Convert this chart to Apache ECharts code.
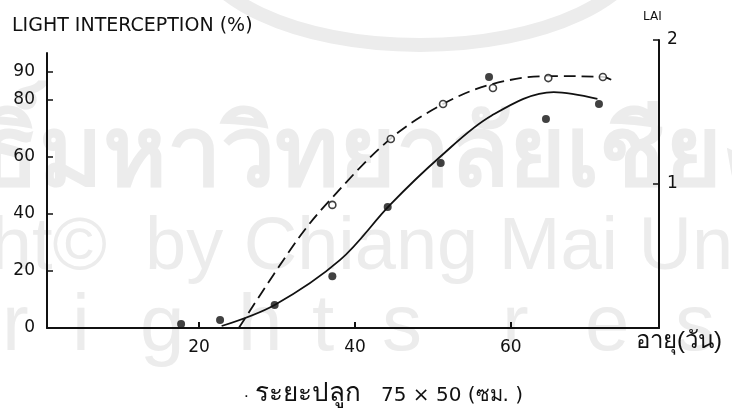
<!DOCTYPE html>
<html>
<head>
<meta charset="utf-8">
<script src="https://cdn.jsdelivr.net/npm/echarts@6/dist/echarts.min.js"></script>
<style>
  html, body { margin: 0; padding: 0; background: #fff; }
  #chart { width: 732px; height: 412px; }
</style>
</head>
<body>
<div id="chart"></div>
<script>
// open circles + dashed fitted curve
const openDays = [37.1, 44.6, 51.3, 57.7, 64.8, 71.8];
const openPct = [43.2, 66.3, 78.6, 84.2, 87.7, 88.1];
const dashedDays = [25.1, 32.6, 36.8, 44.5, 51.3, 57.5, 64.8, 71.8, 73.4];
const dashedPct = [0, 30.9, 44.9, 66.3, 78.6, 85.5, 88.4, 88.1, 86.3];

// filled circles + solid fitted curve
const filledDays = [17.7, 22.7, 29.7, 37.1, 44.2, 51.0, 57.2, 64.5, 71.3];
const filledPct = [1.4, 2.8, 8.1, 18.2, 42.5, 57.9, 88.1, 73.3, 78.6];
const solidDays = [22.9, 29.7, 38.1, 44.5, 50.9, 57.5, 65.5, 71.1];
const solidPct = [0.7, 8.1, 23.9, 43.2, 60.0, 74.5, 82.8, 80.4];

// tick labels
const pctTicks = [0, 20, 40, 60, 80, 90];
const dayTicks = [20, 40, 60];
const laiTicks = [1, 2];

function zip(xs, ys) {
    const out = [];
    for (let i = 0; i < xs.length; i++) out.push([xs[i], ys[i]]);
    return out;
}

const FONT = 'DejaVu Sans';
const INK = '#111';
const WM = '#ececec';

const chart = echarts.init(document.getElementById('chart'));

// letters of the faint "rights reserved" watermark line
const wmLetters = ['r', 'i', 'g', 'h', 't', 's', 'r', 'e', 's', 'e', 'r'];
const wmLetterX = [2, 72, 140, 238, 312, 382, 502, 585, 675, 765, 850];

const graphics = [
    // faint watermark behind the figure
    { type: 'ellipse', z: -10, silent: true, shape: { cx: 420, cy: -60, rx: 225, ry: 105 },
      style: { fill: 'none', stroke: WM, lineWidth: 14 } },
    { type: 'text', z: -10, silent: true, left: -268, top: 110,
      style: { text: 'ลิขสิทธิ์มหาวิทยาลัยเชียงใหม่', fill: WM, font: 'bold 97px sans-serif' } },
    { type: 'text', z: -10, silent: true, right: 625, top: 212,
      style: { text: 'Copyright©', fill: WM, font: '74px sans-serif' } },
    { type: 'text', z: -10, silent: true, left: 145, top: 212,
      style: { text: 'by Chiang Mai University', fill: WM, font: '74px sans-serif' } },

    // texts of the figure
    { type: 'text', left: 12, top: 17,
      style: { text: 'LIGHT INTERCEPTION (%)', fill: INK, font: '19px "DejaVu Sans"' } },
    { type: 'text', left: 643, top: 11,
      style: { text: 'LAI', fill: INK, font: '12px "DejaVu Sans"' } },
    { type: 'text', left: 636, top: 329,
      style: { text: 'อายุ(วัน)', fill: INK, font: '24px sans-serif' } },
    { type: 'text', left: 244, top: 384,
      style: { text: '.', fill: INK, font: '17px sans-serif' } },
    { type: 'text', left: 255, top: 381,
      style: { text: 'ระยะปลูก', fill: INK, font: '26px sans-serif' } },
    { type: 'text', left: 381, top: 386,
      style: { text: '75 × 50 (ซม. )', fill: INK, font: '20px "DejaVu Sans"' } }
];
for (let i = 0; i < wmLetters.length; i++) {
    graphics.push({ type: 'text', z: -10, silent: true, left: wmLetterX[i], top: 288,
        style: { text: wmLetters[i], fill: WM, font: '80px sans-serif' } });
}

const option = {
    backgroundColor: '#fff',
    animation: false,
    grid: [
        { left: 47, right: 73, top: 53, bottom: 84 },
        { left: 47, right: 73, top: 40, bottom: 84 }
    ],
    xAxis: [
        {
            type: 'value',
            gridIndex: 0,
            min: 0.5,
            max: 79,
            axisLine: { lineStyle: { color: INK, width: 2 } },
            axisTick: { inside: true, length: 6, customValues: dayTicks, lineStyle: { color: INK, width: 2 } },
            axisLabel: { customValues: dayTicks, color: INK, fontFamily: FONT, fontSize: 17, margin: 11 },
            splitLine: { show: false }
        },
        {
            type: 'value',
            gridIndex: 1,
            min: 0.5,
            max: 79,
            show: false
        }
    ],
    yAxis: [
        {
            type: 'value',
            gridIndex: 0,
            min: 0,
            max: 96.5,
            axisLine: { show: true, lineStyle: { color: INK, width: 2 } },
            axisTick: { show: true, inside: true, length: 6, customValues: pctTicks.slice(1), lineStyle: { color: INK, width: 1.5 } },
            axisLabel: { customValues: pctTicks, color: INK, fontFamily: FONT, fontSize: 17, margin: 12 },
            splitLine: { show: false }
        },
        {
            type: 'value',
            gridIndex: 1,
            position: 'right',
            min: 0,
            max: 2,
            axisLine: { show: true, lineStyle: { color: INK, width: 2 } },
            axisTick: { show: true, inside: true, length: 6, customValues: laiTicks, lineStyle: { color: INK, width: 1.5 } },
            axisLabel: { customValues: laiTicks, color: INK, fontFamily: FONT, fontSize: 17, margin: 8 },
            splitLine: { show: false }
        }
    ],
    graphic: graphics,
    series: [
        {
            type: 'line',
            data: zip(dashedDays, dashedPct),
            smooth: 0.35,
            showSymbol: false,
            lineStyle: { color: INK, width: 1.8, type: [12, 6] },
            z: 3
        },
        {
            type: 'line',
            data: zip(solidDays, solidPct),
            smooth: 0.35,
            showSymbol: false,
            lineStyle: { color: INK, width: 1.8 },
            z: 3
        },
        {
            type: 'scatter',
            data: zip(openDays, openPct),
            symbol: 'circle',
            symbolSize: 7,
            itemStyle: { color: '#fff', borderColor: INK, borderWidth: 1.6 },
            z: 5
        },
        {
            type: 'scatter',
            data: zip(filledDays, filledPct),
            symbol: 'circle',
            symbolSize: 8,
            itemStyle: { color: INK },
            z: 5
        }
    ]
};

chart.setOption(option);
</script>
</body>
</html>
